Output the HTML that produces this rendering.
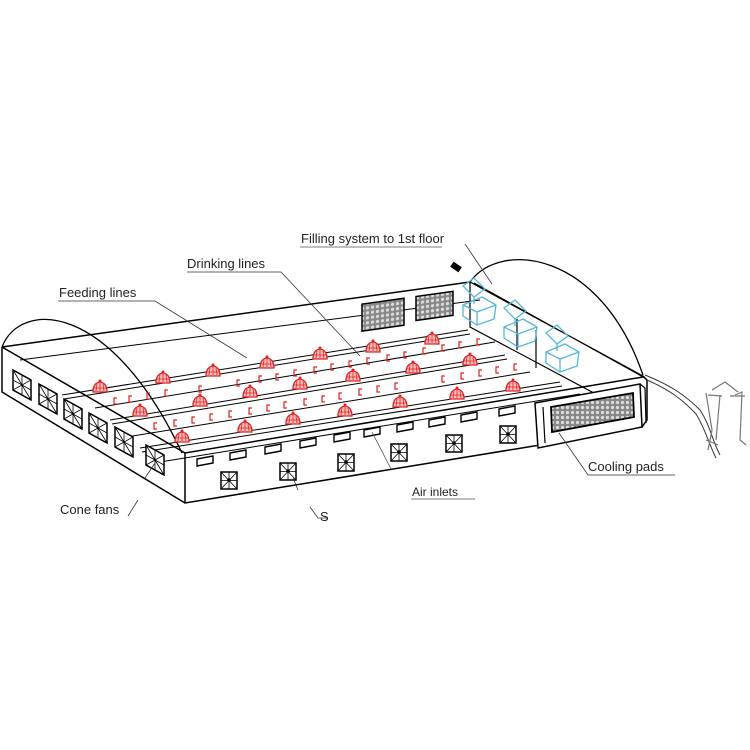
<!DOCTYPE html>
<html><head><meta charset="utf-8"><style>
html,body{margin:0;padding:0;background:#fff;}
svg{display:block;}
text{font-family:"Liberation Sans",sans-serif;font-size:13px;fill:#222;}
</style></head><body>
<svg width="750" height="750" viewBox="0 0 750 750" xmlns="http://www.w3.org/2000/svg">
<defs>
<pattern id="pad" width="5" height="5" patternUnits="userSpaceOnUse">
<rect width="5" height="5" fill="#888"/><circle cx="2.5" cy="2.5" r="1.6" fill="#ddd"/>
</pattern>
<g id="fd"><path d="M-7,4 Q-7,-5 0,-6 Q7,-5 7,4 Z" fill="#f7c0c0" stroke="#e02020" stroke-width="1.3"/><path d="M-4,3 L-3,-4 M0,3 L0,-5 M4,3 L3,-4 M-6,0 L6,0" stroke="#e02020" stroke-width="0.8" fill="none"/><circle cx="0" cy="-7" r="1.5" fill="#e02020"/></g>
<g id="nip"><path d="M2,-4 L-1,-4 L-1,2 L2,2" stroke="#e02020" stroke-width="1.2" fill="none"/></g>
<g id="sf"><rect x="-8" y="-8" width="16" height="17" fill="#fff" stroke="#000" stroke-width="1.5"/><path d="M-8,-8 L8,9 M8,-8 L-8,9 M0,-8 L0,9 M-8,0.5 L8,0.5" stroke="#000" stroke-width="0.8"/><circle r="1.8" fill="#000"/></g>
<g id="ef"><path d="M-9,-14 L9,-4 L9,16 L-9,6 Z" fill="#fff" stroke="#000" stroke-width="1.5"/><path d="M-9,-14 L9,16 M9,-4 L-9,6 M0,-9 L0,11 M-9,-4 L9,6" stroke="#000" stroke-width="0.8"/></g>
<g id="inl"><path d="M-8,-2 L8,-5 L8,2 L-8,5 Z" fill="#fff" stroke="#000" stroke-width="1.4"/></g>
<g id="hop"><path d="M-14,-22 L-3,-30 L8,-19 L-3,-11 Z M-14,-3 L5,-11 L19,-3 L17,11 L0,17 L-14,8 Z M-14,-3 L0,4 L19,-3 M0,4 L0,17" fill="none" stroke="#55b8d8" stroke-width="1.3"/><path d="M-3,-11 L-3,-4" stroke="#55b8d8" stroke-width="1.3"/></g>
</defs>

<!-- building outline -->
<path d="M2,347 L470,282 L643,376 L647,380 L647,420 L540,445 L185,503 L2,392 Z" fill="#fff" stroke="none"/>
<!-- roof arches -->
<path d="M2,347 C20,300 110,300 182,453" fill="none" stroke="#000" stroke-width="1.3"/>
<path d="M470,282 C500,240 600,250 643,375" fill="none" stroke="#000" stroke-width="1.3"/>

<path d="M2,347 L470,282" stroke="#000" stroke-width="1.5"/>
<path d="M2,347 L185,453 L643,377" stroke="#000" stroke-width="1.5" fill="none"/>
<path d="M2,347 L2,392 L185,503 L540,445" stroke="#000" stroke-width="1.5" fill="none"/>
<path d="M185,453 L185,503" stroke="#000" stroke-width="1.5"/>
<path d="M470,282 L643,376 M474,283 L645,378" stroke="#000" stroke-width="1.2"/>
<path d="M643,376 L647,380 L647,420 L642,427" stroke="#000" stroke-width="1.5" fill="none"/>
<path d="M470,282 L470,327 L607,400" stroke="#000" stroke-width="1.2" fill="none"/>
<path d="M517,319 L517,350 M536,330 L536,368" stroke="#000" stroke-width="1.2"/>
<path d="M20,360 L480,300" stroke="#000" stroke-width="1"/>

<!-- back cooling pads -->
<rect x="362" y="303" width="42" height="27" fill="url(#pad)" stroke="#000" stroke-width="1.5" transform="skewY(-8) translate(0,52)"/>
<rect x="416" y="296" width="37" height="24" fill="url(#pad)" stroke="#000" stroke-width="1.5" transform="skewY(-8) translate(0,59)"/>

<!-- lines -->
<g stroke="#000" stroke-width="1" fill="none">
<path d="M62,395 L468,330 M64,399 L470,334"/>
<path d="M95,408 L495,342"/>
<path d="M110,420 L505,355 M112,424 L507,359"/>
<path d="M120,438 L530,372"/>
<path d="M140,448 L560,382 M142,452 L562,386"/>
<path d="M160,462 L580,394"/>
</g>

<g>
<use href="#nip" x="115" y="402"/><use href="#nip" x="130" y="400"/><use href="#nip" x="148" y="397"/><use href="#nip" x="166" y="394"/><use href="#nip" x="200" y="390"/><use href="#nip" x="238" y="384"/><use href="#nip" x="260" y="380"/><use href="#nip" x="277" y="378"/><use href="#nip" x="295" y="374"/><use href="#nip" x="315" y="371"/><use href="#nip" x="332" y="368"/><use href="#nip" x="350" y="365"/><use href="#nip" x="368" y="362"/><use href="#nip" x="388" y="359"/><use href="#nip" x="405" y="356"/><use href="#nip" x="424" y="352"/><use href="#nip" x="443" y="349"/><use href="#nip" x="460" y="346"/><use href="#nip" x="478" y="343"/>
<use href="#nip" x="155" y="427"/><use href="#nip" x="175" y="424"/><use href="#nip" x="193" y="421"/><use href="#nip" x="211" y="418"/><use href="#nip" x="230" y="415"/><use href="#nip" x="250" y="412"/><use href="#nip" x="268" y="409"/><use href="#nip" x="285" y="406"/><use href="#nip" x="305" y="403"/><use href="#nip" x="323" y="400"/><use href="#nip" x="340" y="397"/><use href="#nip" x="360" y="393"/><use href="#nip" x="378" y="390"/><use href="#nip" x="396" y="387"/><use href="#nip" x="443" y="380"/><use href="#nip" x="462" y="377"/><use href="#nip" x="480" y="374"/><use href="#nip" x="497" y="371"/><use href="#nip" x="515" y="368"/>
</g>

<g>
<use href="#fd" x="100" y="388"/><use href="#fd" x="163" y="379"/><use href="#fd" x="213" y="372"/><use href="#fd" x="267" y="364"/><use href="#fd" x="320" y="355"/><use href="#fd" x="373" y="348"/><use href="#fd" x="432" y="340"/>
<use href="#fd" x="140" y="412"/><use href="#fd" x="200" y="402"/><use href="#fd" x="250" y="393"/><use href="#fd" x="300" y="385"/><use href="#fd" x="353" y="377"/><use href="#fd" x="413" y="369"/><use href="#fd" x="470" y="361"/>
<use href="#fd" x="182" y="438"/><use href="#fd" x="245" y="428"/><use href="#fd" x="293" y="420"/><use href="#fd" x="345" y="412"/><use href="#fd" x="400" y="403"/><use href="#fd" x="457" y="395"/><use href="#fd" x="513" y="387"/>
</g>

<!-- hoppers -->
<use href="#hop" x="477" y="308"/><use href="#hop" x="518" y="330"/><use href="#hop" x="560" y="355"/>
<rect x="451" y="264" width="10" height="6" fill="#000" transform="rotate(35 456 267)"/>

<use href="#ef" x="22" y="384"/><use href="#ef" x="48" y="398"/><use href="#ef" x="73" y="413"/><use href="#ef" x="98" y="427"/><use href="#ef" x="124" y="441"/><use href="#ef" x="155" y="459"/>

<use href="#inl" x="205" y="461"/><use href="#inl" x="238" y="455"/><use href="#inl" x="273" y="449"/><use href="#inl" x="308" y="443"/><use href="#inl" x="342" y="437"/><use href="#inl" x="372" y="432"/><use href="#inl" x="405" y="427"/><use href="#inl" x="437" y="422"/><use href="#inl" x="469" y="417"/><use href="#inl" x="507" y="411"/>

<use href="#sf" x="229" y="480"/><use href="#sf" x="288" y="471"/><use href="#sf" x="346" y="462"/><use href="#sf" x="399" y="452"/><use href="#sf" x="454" y="443"/><use href="#sf" x="508" y="434"/>

<path d="M535,403 L640,384 L642,427 L538,448 Z" fill="#fff" stroke="#000" stroke-width="1.5"/>
<path d="M543,407 L545,443 M640,384 L645,388 L646,423" stroke="#000" stroke-width="1.2" fill="none"/>
<path d="M551,407 L633,393 L634,417 L552,432 Z" fill="url(#pad)" stroke="#000" stroke-width="1.8"/>

<path d="M645,375 C670,385 685,395 700,410 C710,425 712,440 720,455 M647,380 C670,390 683,400 696,414 C705,428 708,442 716,458" fill="none" stroke="#333" stroke-width="1"/>
<g stroke="#777" stroke-width="1.2" fill="none">
<path d="M706,393 L712,430 L708,450 M720,395 L716,440 M735,395 L742,392 L740,440 L746,445 M712,390 L725,382 L738,392"/>
<path d="M708,395 L722,396 M730,396 L745,396 M706,440 L718,445"/>
</g>

<text x="301" y="243">Filling system to 1st floor</text>
<path d="M300,247 L442,247" stroke="#555" stroke-width="0.8"/>
<path d="M465,244 L492,284" stroke="#333" stroke-width="0.8"/>

<text x="187" y="268">Drinking lines</text>
<path d="M187,272 L281,272 L360,356" stroke="#333" stroke-width="0.8" fill="none"/>

<text x="59" y="297">Feeding lines</text>
<path d="M58,301 L155,301 L247,358" stroke="#333" stroke-width="0.8" fill="none"/>

<text x="588" y="471">Cooling pads</text>
<path d="M675,475 L588,475 L559,433" stroke="#333" stroke-width="0.8" fill="none"/>

<text x="60" y="514">Cone fans</text>
<path d="M128,516 L138,500 M145,478 L155,463" stroke="#333" stroke-width="0.8"/>

<text x="320" y="521">S</text>
<path d="M310,507 L318,518 L328,518 M293,478 L298,490" stroke="#333" stroke-width="0.8" fill="none"/>

<text x="412" y="496" style="font-size:12px">Air inlets</text>
<path d="M411,499 L475,499 M372,432 L391,469" stroke="#555" stroke-width="0.8"/>
<rect x="410" y="480" width="70" height="7" fill="#fff"/>
</svg>
</body></html>
